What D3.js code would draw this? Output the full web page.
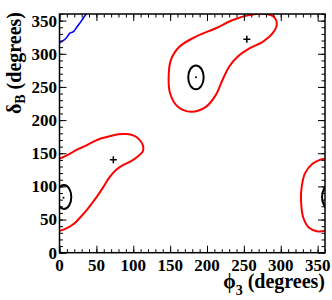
<!DOCTYPE html>
<html lang="en">
<head>
<meta charset="UTF-8">
<title>phi3 vs deltaB contours</title>
<script src="https://d3js.org/d3.v7.min.js"></script>
<style>
    body { margin: 0; background: #fff; }
</style>
</head>
<body>
<svg id="chart" width="332" height="300"></svg>
<script>
// contour data, (phi3, deltaB) in degrees
// red loop that wraps around phi3 = 0/360 (negative phi values belong to the right edge)
const redWrap = [
    [0, 142], [12, 148], [23, 155], [35, 161], [46, 167.5], [57, 172.5], [69, 176], [80, 178.5],
    [91, 179], [100, 177], [108, 171], [113, 162], [113, 153], [107, 146], [96, 137.5], [86, 132],
    [77, 125], [68, 114], [60, 100], [51, 85], [43, 73], [36, 63], [28, 53], [20, 44], [10, 37],
    [0, 33], [-11, 32.5], [-22, 38], [-29.5, 53], [-32.5, 79], [-31.5, 100], [-27, 120],
    [-17, 134], [-7, 140]
];
const redUpper = [
    [294.5, 343.4], [289, 331], [275.5, 318], [257.5, 308], [241.5, 295.5], [230, 280.5],
    [221, 260.5], [212, 238], [198.5, 220], [178.5, 212.5], [160.5, 220], [150, 240],
    [148, 265.5], [151, 290.5], [162.5, 310.5], [185, 326], [212, 338.5], [235, 351],
    [257.5, 358.5], [280, 360], [291.5, 355]
];
const blueLine = [
    [-3, 315.5], [0, 316.7], [5, 319.8], [10, 325], [14, 331], [19, 333.5], [24, 341],
    [30, 350], [36, 360], [38, 363]
];
// black closed contours: centre and half widths
const blackEllipses = [
    { phi: 185, delta: 264.5, rPhi: 10.5, rDelta: 18 },
    { phi: 6, delta: 84, rPhi: 10, rDelta: 18 }
];
const bestDots = [[185, 264.5], [5.5, 83]];
const crosses = [[73, 140], [254, 322]];
const majorTicks = [0, 50, 100, 150, 200, 250, 300, 350];
const minorTicks = d3.range(0, 361, 10);

const svg = d3.select("#chart")
    .style("font-family", '"Liberation Serif", "Times New Roman", serif')
    .style("font-weight", "bold");
const mLeft = 59.5, mRight = 325, mTop = 14, mBottom = 252.7;

const x = d3.scaleLinear().domain([0, 360]).range([mLeft, mRight]);
const y = d3.scaleLinear().domain([0, 360]).range([mBottom, mTop]);

svg.append("clipPath").attr("id", "plotclip")
    .append("rect")
    .attr("x", mLeft).attr("y", mTop)
    .attr("width", mRight - mLeft).attr("height", mBottom - mTop);

const plot = svg.append("g").attr("clip-path", "url(#plotclip)");

const loop = d3.line()
    .x(d => x(d[0])).y(d => y(d[1]))
    .curve(d3.curveCatmullRomClosed.alpha(0.5));

// wrapped red loop drawn at both ends of the phi range
[0, 360].forEach(off => {
    plot.append("path")
        .datum(redWrap.map(d => [d[0] + off, d[1]]))
        .attr("d", loop)
        .attr("fill", "none").attr("stroke", "#ff0000").attr("stroke-width", 2);
});

plot.append("path")
    .datum(redUpper)
    .attr("d", loop)
    .attr("fill", "none").attr("stroke", "#ff0000").attr("stroke-width", 2);

plot.append("path")
    .datum(blueLine)
    .attr("d", d3.line().x(d => x(d[0])).y(d => y(d[1])).curve(d3.curveCatmullRom))
    .attr("fill", "none").attr("stroke", "#0000ff").attr("stroke-width", 1.6);

blackEllipses.forEach(e => {
    [0, 360].forEach(off => {
        plot.append("ellipse")
            .attr("cx", x(e.phi + off)).attr("cy", y(e.delta))
            .attr("rx", x(e.rPhi) - x(0)).attr("ry", y(0) - y(e.rDelta))
            .attr("fill", "none").attr("stroke", "#000").attr("stroke-width", 2);
    });
});

plot.selectAll(".dot").data(bestDots).join("circle")
    .attr("cx", d => x(d[0])).attr("cy", d => y(d[1]))
    .attr("r", 1).attr("fill", "#000");

const cross = plot.selectAll(".cross").data(crosses).join("g")
    .attr("transform", d => `translate(${x(d[0])},${y(d[1])})`);
cross.append("line").attr("x1", -3.5).attr("x2", 3.5).attr("stroke", "#000").attr("stroke-width", 1.5);
cross.append("line").attr("y1", -3.5).attr("y2", 3.5).attr("stroke", "#000").attr("stroke-width", 1.5);

// axes, ticks pointing inward on all four sides
function ticks(axisFn, scale, pos, vals, size) {
    const g = svg.append("g")
        .attr("transform", pos)
        .call(axisFn(scale).tickValues(vals).tickSize(-size).tickSizeOuter(0).tickFormat(""));
    g.select(".domain").remove();
    g.selectAll("line").attr("stroke", "#000").attr("stroke-width", 1);
}
ticks(d3.axisBottom, x, `translate(0,${mBottom})`, minorTicks, 3.5);
ticks(d3.axisBottom, x, `translate(0,${mBottom})`, majorTicks, 7);
ticks(d3.axisTop, x, `translate(0,${mTop})`, minorTicks, 3.5);
ticks(d3.axisTop, x, `translate(0,${mTop})`, majorTicks, 7);
ticks(d3.axisLeft, y, `translate(${mLeft},0)`, minorTicks, 3.5);
ticks(d3.axisLeft, y, `translate(${mLeft},0)`, majorTicks, 7);
ticks(d3.axisRight, y, `translate(${mRight},0)`, minorTicks, 3.5);
ticks(d3.axisRight, y, `translate(${mRight},0)`, majorTicks, 7);

svg.append("rect")
    .attr("x", mLeft).attr("y", mTop)
    .attr("width", mRight - mLeft).attr("height", mBottom - mTop)
    .attr("fill", "none").attr("stroke", "#000").attr("stroke-width", 1.5);

// tick labels
svg.selectAll(".xlab").data(majorTicks).join("text")
    .attr("x", d => x(d)).attr("y", mBottom + 18.5)
    .attr("text-anchor", "middle").attr("font-size", 17)
    .text(d => d);

svg.selectAll(".ylab").data(majorTicks).join("text")
    .attr("x", mLeft - 2.5).attr("y", d => y(d)).attr("dy", "0.35em")
    .attr("text-anchor", "end").attr("font-size", 17)
    .text(d => d);

// axis titles
const xt = svg.append("text")
    .attr("x", mRight).attr("y", 287.5)
    .attr("text-anchor", "end").attr("font-size", 20);
xt.append("tspan").text("ϕ");
xt.append("tspan").attr("font-size", 14).attr("dy", 7).text("3");
xt.append("tspan").attr("dy", -7).text(" (degrees)");

const yt = svg.append("text")
    .attr("transform", `translate(21,${mTop - 2}) rotate(-90)`)
    .attr("text-anchor", "end").attr("font-size", 20);
yt.append("tspan").text("δ");
yt.append("tspan").attr("font-size", 14).attr("dy", 4).text("B");
yt.append("tspan").attr("dy", -4).text(" (degrees)");
</script>
</body>
</html>
